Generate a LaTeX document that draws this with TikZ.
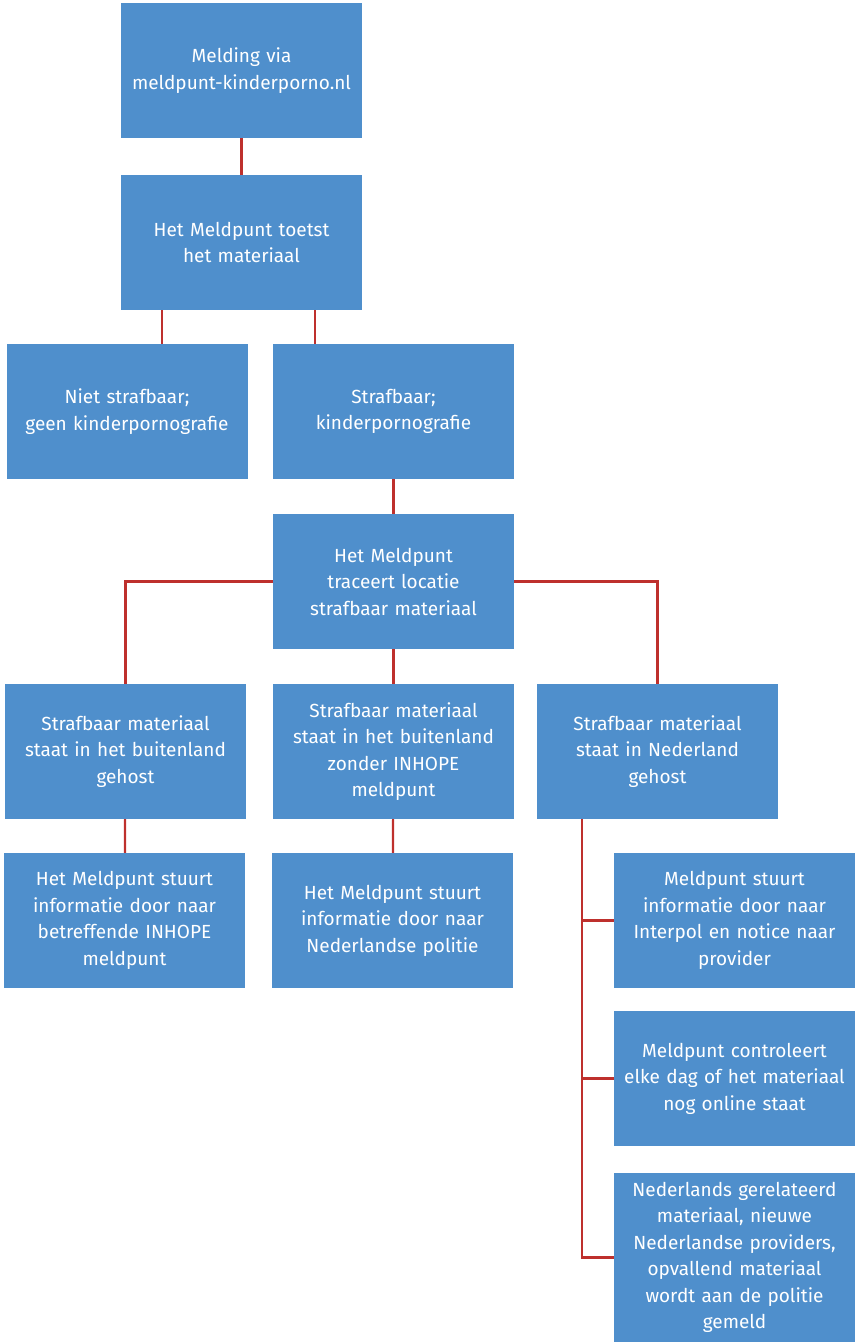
\documentclass[tikz,border=0pt]{standalone}
\usepackage{fontspec}
\setmainfont{Fira Sans}
\usetikzlibrary{positioning}

\definecolor{boxblue}{RGB}{79,143,204}
\definecolor{linered}{RGB}{190,48,45}

\tikzstyle{box} = [rectangle, fill=boxblue, draw=none, minimum width=241pt, minimum height=135pt, text width=236pt, inner sep=0pt, text centered, text=white, font=\fontsize{19}{26.5}\selectfont]
\tikzstyle{line} = [draw=linered, line width=2.2pt]

\begin{document}
\begin{tikzpicture}[-,x=1pt,y=1pt,node distance=170pt]
\useasboundingbox (0,0) rectangle (855,-1342);

\node[box] (melding) at (241.5,-70.5) {Melding via\\meldpunt-kinderporno.nl};
\node[box] (toetst) [below of=melding, yshift=-2pt] {Het Meldpunt toetst\\het materiaal};

\node[box] (niet) [below of=toetst, xshift=-114.5pt, yshift=1pt] {Niet strafbaar;\\geen kinderpornografie};
\node[box] (strafbaar) [right of=niet, xshift=96.5pt] {Strafbaar;\\kinderpornografie};

\node[box] (traceert) [below of=strafbaar] {Het Meldpunt\\traceert locatie\\strafbaar materiaal};

\node[box] (buitenland) [below of=traceert, xshift=-268pt] {Strafbaar materiaal\\staat in het buitenland\\gehost};
\node[box] (zonder) [below of=traceert] {Strafbaar materiaal\\staat in het buitenland\\zonder INHOPE\\meldpunt};
\node[box] (nederland) [right of=zonder, xshift=94pt] {Strafbaar materiaal\\staat in Nederland\\gehost};

\node[box] (inhope) [below of=buitenland, xshift=-1pt, yshift=1pt] {Het Meldpunt stuurt\\informatie door naar\\betreffende INHOPE\\meldpunt};
\node[box] (politie) [below of=zonder, xshift=-1pt, yshift=1pt] {Het Meldpunt stuurt\\informatie door naar\\Nederlandse politie};

\node[box] (interpol) [below of=nederland, xshift=77pt, yshift=1pt] {Meldpunt stuurt\\informatie door naar\\Interpol en notice naar\\provider};
\node[box] (controleert) [below of=interpol, yshift=12pt] {Meldpunt controleert\\elke dag of het materiaal\\nog online staat};
\node[box] (gemeld) [below of=controleert, yshift=-9pt, minimum height=169pt] {Nederlands gerelateerd\\materiaal, nieuwe\\Nederlandse providers,\\opvallend materiaal\\wordt aan de politie\\gemeld};

% connectors
\draw[line] (melding) -- (toetst);
\draw[line] ([xshift=-79.5pt]toetst.south) -- ([xshift=-79.5pt]toetst.south |- niet.north);
\draw[line] ([xshift=73.5pt]toetst.south) -- ([xshift=73.5pt]toetst.south |- strafbaar.north);
\draw[line] (strafbaar) -- (traceert);
\draw[line] (traceert.west) -| (buitenland.north);
\draw[line] (traceert) -- (zonder);
\draw[line] (traceert.east) -| (nederland.north);
\draw[line] (buitenland) -- (inhope);
\draw[line] (zonder) -- (politie);
\draw[line] ([xshift=-75.5pt]nederland.south) |- (interpol.west);
\draw[line] ([xshift=-75.5pt]nederland.south) |- (controleert.west);
\draw[line] ([xshift=-75.5pt]nederland.south) |- (gemeld.west);

\end{tikzpicture}
\end{document}
